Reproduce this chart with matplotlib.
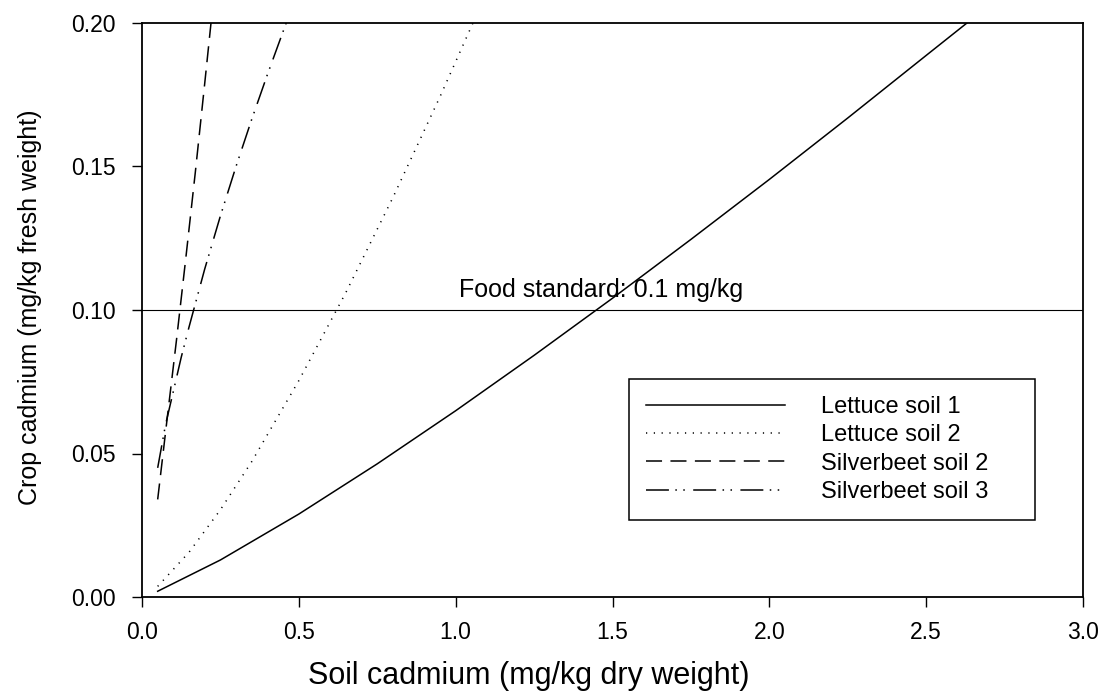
import numpy as np
import matplotlib
matplotlib.use('Agg')
import matplotlib.pyplot as plt

plt.rcParams['font.family'] = ['Liberation Sans', 'DejaVu Sans']

# data (soil Cd, crop Cd)
lettuce1_x = [0.05, 0.25, 0.5, 0.75, 1.0, 1.25, 1.5, 1.75, 2.0, 2.25, 2.5, 2.63]
lettuce1_y = [0.002, 0.0129, 0.0289, 0.0464, 0.0649, 0.0842, 0.1041, 0.1246, 0.1455, 0.1669, 0.1887, 0.2]

lettuce2_x = [0.05, 0.15, 0.25, 0.35, 0.5, 0.65, 0.8, 0.95, 1.055]
lettuce2_y = [0.0037, 0.0156, 0.0304, 0.0472, 0.0754, 0.1061, 0.1392, 0.1743, 0.2]

silver2_x = [0.05, 0.08, 0.11, 0.14, 0.17, 0.2, 0.22]
silver2_y = [0.034, 0.062, 0.0896, 0.1184, 0.148, 0.179, 0.2]

silver3_x = [0.05, 0.075, 0.1, 0.125, 0.15, 0.2, 0.25, 0.3, 0.35, 0.4, 0.46]
silver3_y = [0.045, 0.0600, 0.0717, 0.0835, 0.0941, 0.1143, 0.1328, 0.1501, 0.1665, 0.1821, 0.2001]

food_standard = 0.1

# %%
fig = plt.figure(figsize=(11.02, 6.91), dpi=100)
ax = fig.add_axes([142/1102, 94/691, 941/1102, 574/691])

ax.plot(lettuce1_x, lettuce1_y, color='black', lw=1.1, label='Lettuce soil 1')
ax.plot(lettuce2_x, lettuce2_y, color='black', lw=1.1, dashes=(0.8, 4.3), label='Lettuce soil 2')
ax.plot(silver2_x, silver2_y, color='black', lw=1.1, dashes=(10.5, 5.5), label='Silverbeet soil 2')
ax.plot(silver3_x, silver3_y, color='black', lw=1.1, dashes=(15, 4.2, 1, 4.2, 1, 5.5),
        label='Silverbeet soil 3')

ax.axhline(food_standard, color='black', lw=0.8)
ax.text(1.465, 0.1045, 'Food standard: 0.1 mg/kg', ha='center', va='baseline', fontsize=18)

ax.set_xlim(0, 3.0)
ax.set_ylim(0, 0.2)
ax.set_xticks(np.arange(0, 3.01, 0.5))
ax.set_yticks(np.arange(0, 0.201, 0.05))
ax.xaxis.set_major_formatter(matplotlib.ticker.FormatStrFormatter('%.1f'))
ax.yaxis.set_major_formatter(matplotlib.ticker.FormatStrFormatter('%.2f'))
ax.tick_params(direction='out', length=7, width=1, labelsize=16.5)
ax.tick_params(axis='y', pad=12)
ax.tick_params(axis='x', pad=10)
for s in ax.spines.values():
    s.set_linewidth(1.3)

ax.set_xlabel('Soil cadmium (mg/kg dry weight)', fontsize=22)
ax.xaxis.set_label_coords(0.411, -0.112)
ax.set_ylabel('Crop cadmium (mg/kg fresh weight)', fontsize=18)
ax.yaxis.set_label_coords(-0.106, 0.505)

leg = ax.legend(loc='lower left', bbox_to_anchor=(0.5175, 0.134, 0.432, 0.24),
                mode='expand', borderaxespad=0, fontsize=17, handlelength=5.9,
                handletextpad=1.5, labelspacing=0.27, fancybox=False, framealpha=1,
                edgecolor='black', borderpad=0.72)
leg.get_frame().set_linewidth(1.1)

plt.savefig('out.png', dpi=100)
